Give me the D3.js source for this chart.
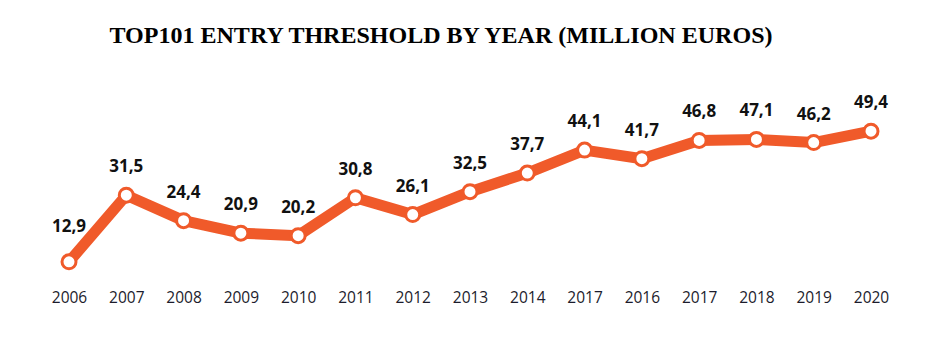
<!DOCTYPE html>
<html>
<head>
<meta charset="utf-8">
<script src="https://cdn.jsdelivr.net/npm/d3@7"></script>
<style>
  body { margin: 0; background: #fff; }
</style>
</head>
<body>
<div id="chart"></div>
<script>
// données
const years = ["2006", "2007", "2008", "2009", "2010", "2011", "2012", "2013", "2014", "2017", "2016", "2017", "2018", "2019", "2020"]
const values = [12.9, 31.5, 24.4, 20.9, 20.2, 30.8, 26.1, 32.5, 37.7, 44.1, 41.7, 46.8, 47.1, 46.2, 49.4]
const yDomain = [0, 50]

const width = 937
const height = 354

const svg = d3.select("#chart")
    .append("svg")
    .attr("width", width)
    .attr("height", height)

// titre
svg.append("text")
    .attr("x", 441)
    .attr("y", 43)
    .attr("text-anchor", "middle")
    .attr("font-family", "Liberation Serif, Times New Roman, serif")
    .attr("font-weight", "bold")
    .attr("font-size", "23px")
    .attr("textLength", 663)
    .attr("lengthAdjust", "spacingAndGlyphs")
    .text("TOP101 ENTRY THRESHOLD BY YEAR (MILLION EUROS)")

// échelles (index pour gérer le doublon 2017)
const x = d3.scalePoint()
    .domain(d3.range(years.length))
    .range([69, 871])

const y = d3.scaleLinear()
    .domain(yDomain)
    .range([308, 129])

// axe x sans trait
const xAxis = svg.append("g")
    .attr("transform", "translate(0,298)")
    .call(d3.axisBottom(x).tickSize(0).tickFormat(i => years[i]))
xAxis.select(".domain").remove()
xAxis.selectAll("text")
    .attr("dy", "0.35em")
    .attr("y", 0)
    .attr("font-family", "Open Sans, sans-serif")
    .attr("font-size", "15.5px")
    .attr("font-weight", "normal")
    .attr("fill", "#1c1c2c")

const orange = "#f05a2a"

const line = d3.line()
    .x((d, i) => x(i))
    .y(d => y(d))

svg.append("path")
    .datum(values)
    .attr("d", line)
    .attr("fill", "none")
    .attr("stroke", orange)
    .attr("stroke-width", 11)
    .attr("stroke-linejoin", "round")

svg.selectAll("circle.pt")
    .data(values)
    .enter()
    .append("circle")
    .attr("class", "pt")
    .attr("cx", (d, i) => x(i))
    .attr("cy", d => y(d))
    .attr("r", 7)
    .attr("fill", "#fff")
    .attr("stroke", orange)
    .attr("stroke-width", 3)

// étiquettes de valeur
svg.selectAll("text.val")
    .data(values)
    .enter()
    .append("text")
    .attr("class", "val")
    .attr("x", (d, i) => x(i))
    .attr("y", (d, i) => y(d) - (i === 0 ? 36 : 29))
    .attr("dy", "0.35em")
    .attr("text-anchor", "middle")
    .attr("font-family", "Open Sans, sans-serif")
    .attr("font-weight", "bold")
    .attr("font-size", "17px")
    .attr("fill", "#111")
    .text(d => d3.format(".1f")(d).replace(".", ","))
</script>
</body>
</html>
